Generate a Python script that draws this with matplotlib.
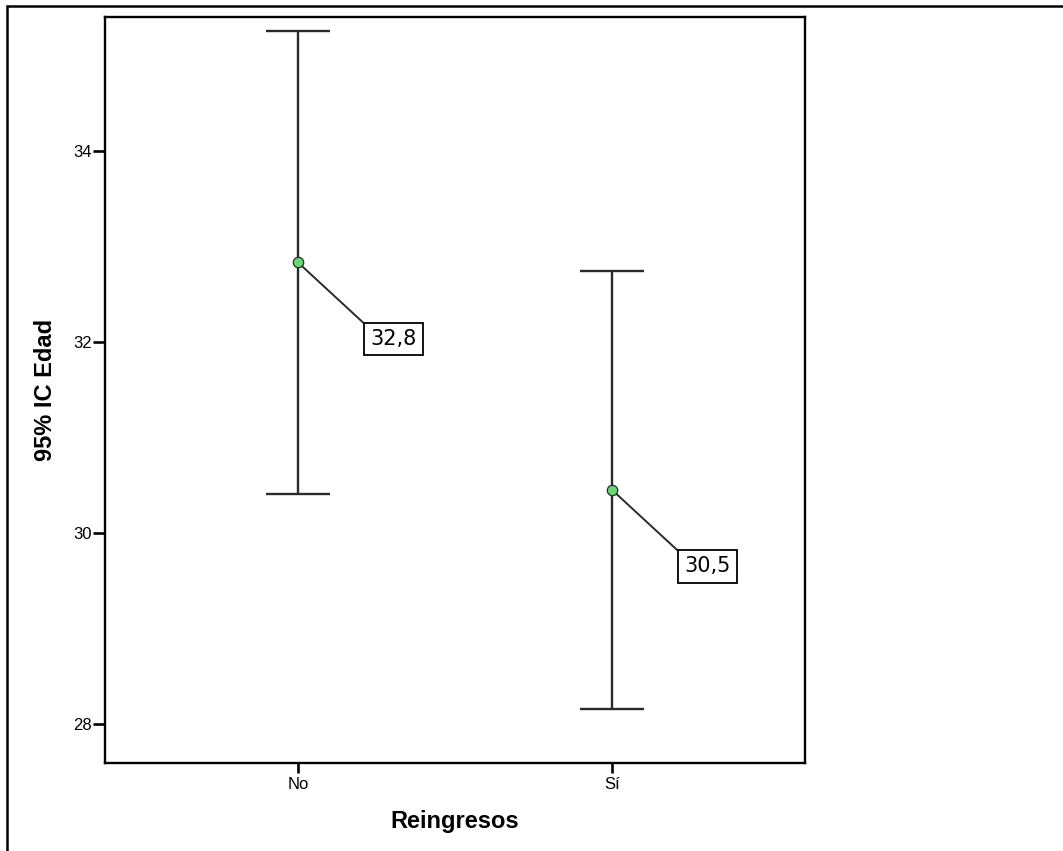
import matplotlib.pyplot as plt
from matplotlib.patches import Rectangle
import numpy as np

plt.rcParams['font.family'] = ['Liberation Sans', 'DejaVu Sans']

# 95% CI of age by readmission group
groups = ['No', 'Sí']
means = [32.83, 30.45]
lower = [30.41, 28.16]
upper = [35.25, 32.74]
mean_labels = ['32,8', '30,5']
yticks = [28, 30, 32, 34]

fig = plt.figure(figsize=(10.63, 8.51), dpi=100)
ax = fig.add_axes([105 / 1063, 88 / 851, 700 / 1063, 746 / 851])

x = np.arange(len(groups))
means = np.array(means)
yerr = [means - np.array(lower), np.array(upper) - means]
ax.errorbar(x, means, yerr=yerr, fmt='none', ecolor='#2a2a2a',
            elinewidth=1.7, capsize=23, capthick=1.7, zorder=2)
ax.plot(x, means, 'o', ms=7.5, mfc='#66d870', mec='#2a2a2a', mew=0.9,
        zorder=4)

for xi, m, lab in zip(x, means, mean_labels):
    ax.annotate(lab, xy=(xi, m), xytext=(52, -48), textcoords='offset points',
                ha='left', va='top', fontsize=15, family='DejaVu Sans',
                bbox=dict(boxstyle='square,pad=0.3', fc='white', ec='black', lw=1.3),
                arrowprops=dict(arrowstyle='-', color='#2a2a2a', lw=1.4,
                                relpos=(0, 1), shrinkA=0, shrinkB=4),
                zorder=3)

ax.set_xlim(-0.615, 1.615)
ax.set_ylim(27.59, 35.40)
ax.set_xticks(x)
ax.set_xticklabels(groups)
ax.set_yticks(yticks)
ax.tick_params(axis='y', length=8.5, width=1.9, labelsize=12, pad=1)
ax.tick_params(axis='x', length=7, width=1.9, labelsize=12, pad=3)
for s in ax.spines.values():
    s.set_linewidth(1.7)

ax.set_xlabel('Reingresos', fontsize=17, fontweight='bold', labelpad=13)
ax.set_ylabel('95% IC Edad', fontsize=17, fontweight='bold', labelpad=12)

# outer frame around the chart
fig.add_artist(Rectangle((7 / 1063, -0.1), 1.2, (851 - 6) / 851 + 0.1,
                         transform=fig.transFigure, fill=False,
                         ec='black', lw=1.8))

fig.savefig('out.png', dpi=100)
